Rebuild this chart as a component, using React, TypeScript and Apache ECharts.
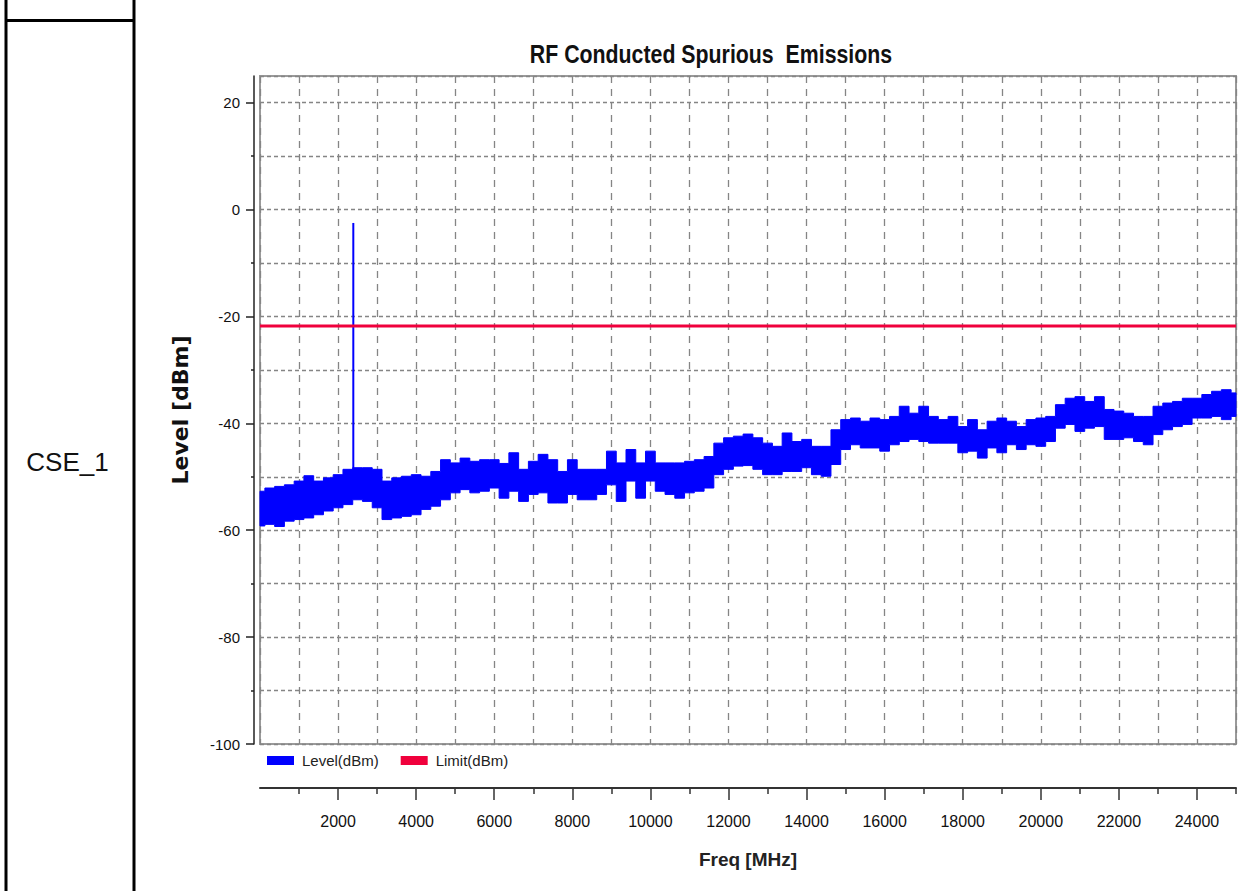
import React, { useEffect, useRef } from "react";
import * as echarts from "echarts";

// ---- Data ----
const FREQ_MHZ = [
  0, 250, 500, 750, 1000, 1250, 1500, 1750, 2000, 2250, 2500, 2750, 3000, 3250, 3500, 3750, 4000, 4250, 4500, 4750,
  5000, 5250, 5500, 5750, 6000, 6250, 6500, 6750, 7000, 7250, 7500, 7750, 8000, 8250, 8500, 8750, 9000, 9250, 9500, 9750,
  10000, 10250, 10500, 10750, 11000, 11250, 11500, 11750, 12000, 12250, 12500, 12750, 13000, 13250, 13500, 13750, 14000, 14250, 14500, 14750,
  15000, 15250, 15500, 15750, 16000, 16250, 16500, 16750, 17000, 17250, 17500, 17750, 18000, 18250, 18500, 18750, 19000, 19250, 19500, 19750,
  20000, 20250, 20500, 20750, 21000, 21250, 21500, 21750, 22000, 22250, 22500, 22750, 23000, 23250, 23500, 23750, 24000, 24250, 24500, 24750,
  25000,
];

// upper envelope of the Level trace (dBm)
const LEVEL_UPPER = [
  -52.7, -52.1, -51.8, -51.5, -50.8, -49.8, -50.8, -50.2, -49.6, -48.6, -48.3, -48.3, -48.6, -50.8, -50.2, -49.9, -49.6, -49.9, -49.0, -46.8,
  -47.4, -46.5, -47.1, -46.8, -46.8, -47.5, -45.5, -48.6, -47.1, -45.8, -46.8, -49.0, -46.8, -48.6, -48.6, -48.6, -45.2, -47.4, -44.9, -47.4,
  -45.2, -47.4, -47.4, -47.4, -47.1, -46.8, -46.2, -43.7, -42.7, -42.4, -42.0, -42.7, -43.7, -44.3, -41.8, -43.4, -43.0, -44.3, -44.3, -41.2,
  -39.3, -39.0, -39.6, -39.0, -39.3, -38.7, -36.8, -38.1, -36.8, -38.7, -39.3, -38.7, -40.6, -39.3, -41.2, -39.6, -39.0, -39.6, -40.6, -39.3,
  -39.0, -38.7, -36.5, -35.3, -35.0, -35.9, -35.0, -37.4, -37.7, -38.1, -38.7, -38.7, -36.8, -36.2, -35.9, -35.3, -35.3, -34.6, -34.0, -33.7,
  -34.3,
];

// lower envelope of the Level trace (dBm)
const LEVEL_LOWER = [
  -59.2, -58.9, -59.3, -58.3, -58.0, -57.7, -57.1, -56.4, -55.8, -55.2, -54.3, -54.6, -55.8, -58.0, -57.7, -57.4, -57.1, -56.1, -55.5, -54.3,
  -53.0, -52.4, -53.0, -52.7, -52.1, -54.0, -52.7, -54.6, -53.3, -53.0, -54.9, -54.9, -53.3, -54.3, -54.3, -53.3, -51.5, -54.6, -50.8, -54.0,
  -50.8, -52.7, -53.3, -54.0, -53.0, -52.7, -52.1, -49.6, -48.6, -48.0, -47.9, -48.6, -49.6, -49.6, -49.0, -49.0, -48.3, -49.6, -49.9, -47.7,
  -44.9, -44.0, -44.6, -44.6, -45.2, -44.0, -43.4, -43.0, -43.4, -43.7, -43.7, -43.7, -45.5, -45.2, -46.5, -44.6, -45.5, -44.0, -44.9, -44.0,
  -44.3, -43.4, -40.9, -40.2, -41.5, -40.9, -40.6, -43.0, -43.0, -42.7, -43.4, -44.0, -42.1, -41.2, -40.6, -40.2, -39.0, -39.0, -38.7, -39.3,
  -38.7,
];

// carrier spike
const SPIKE_FREQ = [2390, 2390];
const SPIKE_LEVEL = [-49.5, -2.5];

// limit line
const LIMIT_FREQ = [0, 25000];
const LIMIT_LEVEL = [-21.8, -21.8];

// tick values
const X_MAJOR = [2000, 4000, 6000, 8000, 10000, 12000, 14000, 16000, 18000, 20000, 22000, 24000];
const X_MINOR = [1000, 3000, 5000, 7000, 9000, 11000, 13000, 15000, 17000, 19000, 21000, 23000, 25000];
const Y_MAJOR = [-100, -80, -60, -40, -20, 0, 20];
const Y_MINOR = [-90, -70, -50, -30, -10, 10];

const TITLE = "RF Conducted Spurious  Emissions";
const ROW_LABEL = "CSE_1";

const SANS = '"Liberation Sans", Arial, sans-serif';
const BLUE = "#0000ff";
const RED = "#f0003c";
const GRID_COLOR = "#858585";

export default function App() {
  const ref = useRef<HTMLDivElement>(null);

  useEffect(() => {
    if (!ref.current) return;
    const chart = echarts.init(ref.current, undefined, { renderer: "svg" });

    const bandData = FREQ_MHZ.map((f, i) => [f, LEVEL_LOWER[i], LEVEL_UPPER[i]]);
    const n = FREQ_MHZ.length;

    const stepEdge = (api: any, vals: number[]) => {
      const out: number[][] = [];
      for (let i = 0; i < n; i++) {
        const left = i === 0 ? FREQ_MHZ[0] : (FREQ_MHZ[i - 1] + FREQ_MHZ[i]) / 2;
        const right = i === n - 1 ? FREQ_MHZ[n - 1] : (FREQ_MHZ[i] + FREQ_MHZ[i + 1]) / 2;
        out.push(api.coord([left, vals[i]]), api.coord([right, vals[i]]));
      }
      return out;
    };

    const option: any = {
      animation: false,
      backgroundColor: "#ffffff",
      legend: {
        left: 267,
        top: 753,
        padding: 0,
        icon: "rect",
        itemWidth: 27,
        itemHeight: 9,
        itemGap: 22,
        selectedMode: false,
        data: ["Level(dBm)", "Limit(dBm)"],
        textStyle: { fontFamily: SANS, fontSize: 15, color: "#222", padding: [0, 0, 0, 3] },
      },
      grid: {
        left: 260,
        right: 23,
        top: 76,
        bottom: 147,
        show: true,
        borderColor: "#9a9a9a",
        borderWidth: 2,
        backgroundColor: "transparent",
      },
      xAxis: [
        {
          type: "value",
          min: 0,
          max: 25000,
          interval: 1000,
          position: "bottom",
          axisLine: { show: false, onZero: false },
          axisTick: { show: false },
          axisLabel: { show: false },
          splitLine: { show: true, lineStyle: { color: GRID_COLOR, width: 1.3, type: [7, 6] } },
        },
        {
          type: "value",
          min: 0,
          max: 25000,
          position: "bottom",
          offset: 44,
          axisLine: { show: true, onZero: false, lineStyle: { color: "#333", width: 2 } },
          axisTick: { show: true, length: 6, customValues: X_MINOR, lineStyle: { color: "#333", width: 1.5 } },
          axisLabel: { show: false },
          splitLine: { show: false },
        },
        {
          type: "value",
          min: 0,
          max: 25000,
          position: "bottom",
          offset: 44,
          axisLine: { show: false, onZero: false },
          axisTick: { show: true, length: 12, customValues: X_MAJOR, lineStyle: { color: "#333", width: 1.5 } },
          axisLabel: {
            show: true,
            customValues: X_MAJOR,
            margin: 25,
            fontFamily: SANS,
            fontSize: 16,
            color: "#111",
            formatter: (v: number) => String(v),
          },
          splitLine: { show: false },
          name: "Freq [MHz]",
          nameLocation: "middle",
          nameGap: 62,
          nameTextStyle: { fontFamily: SANS, fontWeight: "bold", fontSize: 19, color: "#222" },
        },
      ],
      yAxis: [
        {
          type: "value",
          min: -100,
          max: 25,
          interval: 10,
          position: "left",
          axisLine: { show: false, onZero: false },
          axisTick: { show: false },
          axisLabel: { show: false },
          splitLine: { show: true, lineStyle: { color: GRID_COLOR, width: 1.3, type: [4, 3] } },
        },
        {
          type: "value",
          min: -100,
          max: 25,
          position: "left",
          offset: 6,
          axisLine: { show: true, onZero: false, lineStyle: { color: "#222", width: 1.5 } },
          axisTick: { show: true, length: 3, customValues: Y_MINOR, lineStyle: { color: "#222", width: 1.5 } },
          axisLabel: { show: false },
          splitLine: { show: false },
        },
        {
          type: "value",
          min: -100,
          max: 25,
          position: "left",
          offset: 6,
          axisLine: { show: false, onZero: false },
          axisTick: { show: true, length: 8, customValues: Y_MAJOR, lineStyle: { color: "#222", width: 1.5 } },
          axisLabel: {
            show: true,
            customValues: Y_MAJOR,
            margin: 14,
            fontFamily: SANS,
            fontSize: 15,
            color: "#111",
            formatter: (v: number) => String(v),
          },
          splitLine: { show: false },
          name: "Level [dBm]",
          nameLocation: "middle",
          nameGap: 63,
          nameTextStyle: { fontFamily: '"DejaVu Sans", sans-serif', fontWeight: "bold", fontSize: 22, color: "#111" },
        },
      ],
      series: [
        {
          type: "custom",
          name: "Level(dBm)",
          xAxisIndex: 0,
          yAxisIndex: 0,
          itemStyle: { color: BLUE },
          encode: { x: 0, y: [1, 2] },
          data: bandData,
          z: 3,
          renderItem: (params: any, api: any) => {
            if (params.dataIndex !== 0) return null;
            const top = stepEdge(api, LEVEL_UPPER);
            const bottom = stepEdge(api, LEVEL_LOWER).reverse();
            return {
              type: "polygon",
              shape: { points: top.concat(bottom) },
              style: { fill: BLUE, stroke: BLUE, lineWidth: 1 },
            };
          },
        },
        {
          type: "line",
          name: "Level(dBm)",
          xAxisIndex: 0,
          yAxisIndex: 0,
          data: SPIKE_FREQ.map((f, i) => [f, SPIKE_LEVEL[i]]),
          showSymbol: false,
          lineStyle: { color: BLUE, width: 2 },
          itemStyle: { color: BLUE },
          z: 4,
        },
        {
          type: "line",
          name: "Limit(dBm)",
          xAxisIndex: 0,
          yAxisIndex: 0,
          data: LIMIT_FREQ.map((f, i) => [f, LIMIT_LEVEL[i]]),
          showSymbol: false,
          lineStyle: { color: RED, width: 3 },
          itemStyle: { color: RED },
          z: 5,
        },
      ],
      graphic: [
        { type: "line", shape: { x1: 6, y1: 0, x2: 6, y2: 891 }, style: { stroke: "#000", lineWidth: 3 } },
        { type: "line", shape: { x1: 134, y1: 0, x2: 134, y2: 891 }, style: { stroke: "#000", lineWidth: 3 } },
        { type: "line", shape: { x1: 6, y1: 20.5, x2: 134, y2: 20.5 }, style: { stroke: "#000", lineWidth: 3 } },
        {
          type: "text",
          x: 67.5,
          y: 462,
          style: {
            text: ROW_LABEL,
            fill: "#111",
            font: '26px "Liberation Sans", Arial, sans-serif',
            align: "center",
            verticalAlign: "middle",
          },
        },
        {
          type: "text",
          x: 711,
          y: 54,
          scaleX: 0.82,
          style: {
            text: TITLE,
            fill: "#111",
            font: 'bold 26px "Liberation Sans", Arial, sans-serif',
            align: "center",
            verticalAlign: "middle",
          },
        },
      ],
    };

    chart.setOption(option);
    return () => chart.dispose();
  }, []);

  return (
    <div
      ref={ref}
      style={{ position: "absolute", left: 0, top: 0, width: 1259, height: 891, background: "#fff" }}
    />
  );
}
